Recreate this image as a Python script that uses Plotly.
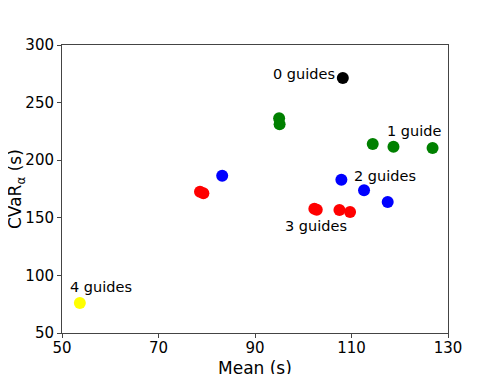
import plotly.graph_objects as go

# Data per group (mean, CVaR)
g0_mean = [108.2]
g0_cvar = [271.4]
g1_mean = [95.0, 95.1, 114.4, 118.7, 126.8]
g1_cvar = [236.4, 231.2, 214.1, 211.7, 210.6]
g2_mean = [83.2, 107.9, 112.6, 117.5]
g2_cvar = [186.6, 183.1, 173.9, 163.7]
g3_mean = [78.6, 79.3, 102.3, 102.8, 107.5, 109.7]
g3_cvar = [172.7, 171.3, 157.9, 157.0, 156.8, 155.0]
g4_mean = [53.7]
g4_cvar = [76.0]

groups = [
    (g0_mean, g0_cvar, "black"),
    (g1_mean, g1_cvar, "green"),
    (g2_mean, g2_cvar, "blue"),
    (g3_mean, g3_cvar, "red"),
    (g4_mean, g4_cvar, "yellow"),
]

label_texts = ["0 guides", "1 guide", "2 guides", "3 guides", "4 guides"]
label_x = [107.0, 117.0, 110.2, 95.7, 51.3]
label_y = [274.8, 225.3, 186.3, 143.1, 90.2]
label_anchor = ["right", "left", "left", "left", "left"]

x_ticks = [50, 70, 90, 110, 130]
y_ticks = [50, 100, 150, 200, 250, 300]

fig = go.Figure()
for xs, ys, c in groups:
    fig.add_trace(go.Scatter(x=xs, y=ys, mode="markers",
                             marker=dict(color=c, size=12, line=dict(width=0)),
                             showlegend=False))

for t, x, y, a in zip(label_texts, label_x, label_y, label_anchor):
    fig.add_annotation(x=x, y=y, text=t, showarrow=False, xanchor=a, yanchor="middle",
                       font=dict(size=14.5, color="black"))

# axis titles as annotations for exact placement
fig.add_annotation(xref="paper", yref="paper", x=0.5, y=0, yshift=-35,
                   xanchor="center", yanchor="middle", showarrow=False,
                   text="Mean (s)", font=dict(size=17, color="black"))
fig.add_annotation(xref="paper", yref="paper", x=0, y=0.5, xshift=-46,
                   xanchor="center", yanchor="middle", showarrow=False, textangle=-90,
                   text="CVaR<sub>α</sub> (s)", font=dict(size=17, color="black"))

axis_common = dict(showgrid=False, zeroline=False, showline=True, linecolor="#444",
                   linewidth=1, mirror=True, ticks="outside", ticklen=4, tickcolor="#444",
                   tickfont=dict(size=15, color="black"), automargin=False)

fig.update_xaxes(range=[50, 130], tickvals=x_ticks, ticklabelstandoff=-3, **axis_common)
fig.update_yaxes(range=[50, 300], tickvals=y_ticks, **axis_common)

fig.update_layout(width=498, height=374, margin=dict(l=54, r=58, t=37, b=49),
                  plot_bgcolor="white", paper_bgcolor="white",
                  font=dict(family="DejaVu Sans", color="black"))

fig.write_html("out.html")
